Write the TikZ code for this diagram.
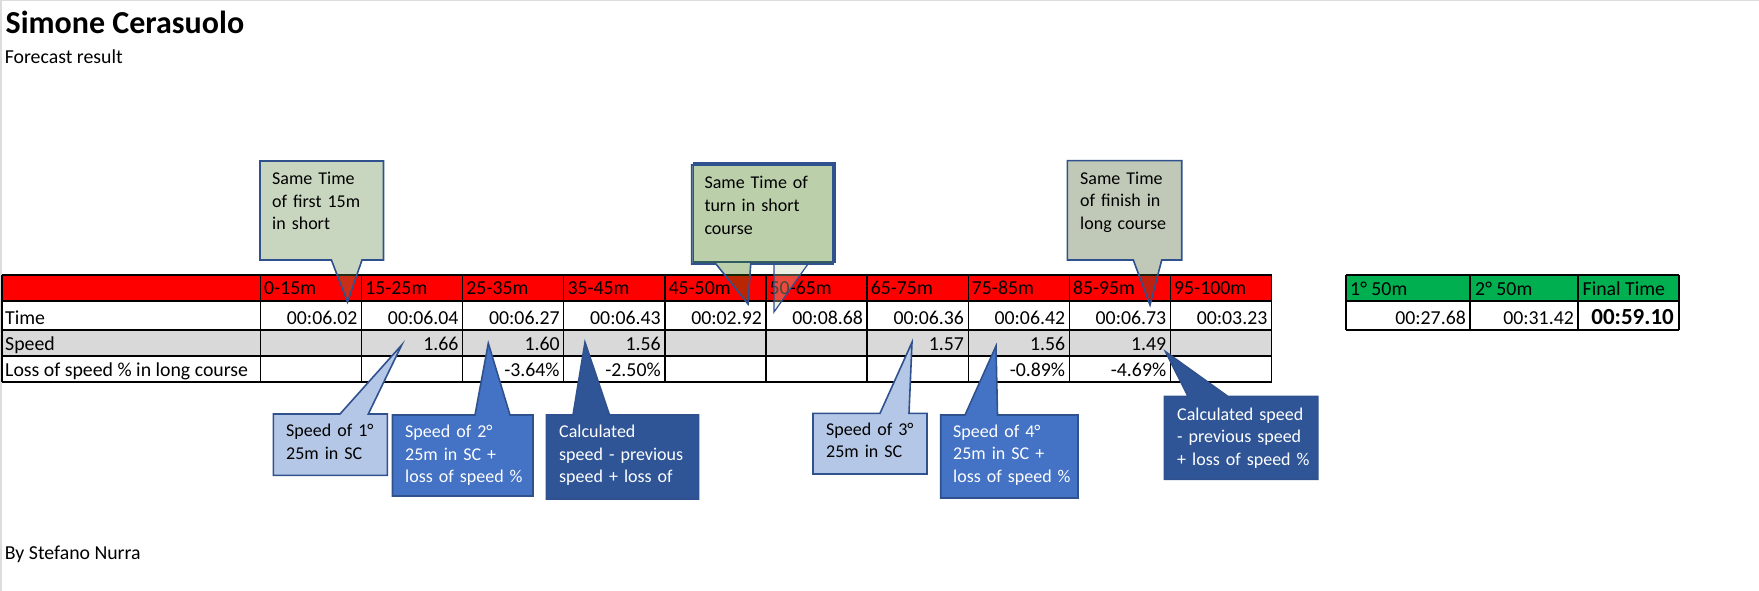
\documentclass[tikz,border=0pt]{standalone}
\usepackage{fontspec}
\setmainfont{Carlito}
\newcommand\TabF{\fontsize{19.8}{23}\selectfont}
\newcommand\CalF{\fontsize{18}{22.8}\selectfont}
\newcommand\TitF{\fontsize{32}{38}\selectfont\bfseries}
\newcommand\BigF{\fontsize{23}{27}\selectfont\bfseries}
\definecolor{xred}{RGB}{255,0,0}
\definecolor{xgray}{RGB}{217,217,217}
\definecolor{xgreen}{RGB}{0,176,80}
\definecolor{cborder}{RGB}{47,82,143}
\definecolor{lblue}{RGB}{180,199,231}
\definecolor{mblue}{RGB}{68,114,196}
\definecolor{dblue}{RGB}{47,85,151}
\definecolor{gA}{RGB}{97,136,67}
\definecolor{gB}{RGB}{55,114,5}
\definecolor{gBb}{RGB}{195,212,173}
\definecolor{gC}{RGB}{70,96,46}
\definecolor{frame}{RGB}{220,220,220}
\begin{document}
\begin{tikzpicture}[x=1pt,y=-1pt,
  gridline/.style={line width=1.3pt,draw=black},
  txt/.style={inner sep=0pt,font=\TabF},
  hd/.style={txt,anchor=base west},
  num/.style={txt,anchor=base east},
  gcall/.style={draw=cborder,line width=1.6pt,line join=miter,fill opacity=0.34},
  bcall/.style={draw=cborder,line width=1.6pt,line join=miter},
  ctext/.style={inner sep=0pt,font=\CalF,align=left,text width=160pt,anchor=base west}]
\useasboundingbox (0,0) rectangle (1759,591);
\draw[frame,line width=1.5pt] (0,0.75) -- (1759,0.75);
\draw[frame,line width=1.5pt] (0.75,0) -- (0.75,591);

% titles
\node[inner sep=0pt,anchor=base west,font=\TitF] (title) at (5.5,33.3) {Simone Cerasuolo};
\node[hd] (sub) at (4.6,64) {Forecast result};
\node[hd] (by) at (4.7,559.3) {By Stefano Nurra};

% main table fills
\fill[xred] (2,275) rectangle (1271.5,301);
\fill[xgray] (2,330) rectangle (1271.5,356);
\foreach \y in {275,301,330,356,382} \draw[gridline] (2,\y) -- (1271.5,\y);
\draw[gridline] (2,275) -- (2,382);
\foreach \k in {0,...,10} \draw[gridline] ({260.5+101.1*\k},275) -- ({260.5+101.1*\k},382);

% main table texts
\foreach \lab [count=\i] in {0-15m,15-25m,25-35m,35-45m,45-50m,50-65m,65-75m,75-85m,85-95m,95-100m}
  \node[hd] (h\i) at ({260.5+101.1*(\i-1)+3.5},294) {\lab};
\node[hd] (rtime) at (5,324) {Time};
\node[hd] (rspeed) at (5,350.6) {Speed};
\node[hd] (rloss) at (5,376.6) {Loss of speed \% in long course};
\foreach \v [count=\i] in {00:06.02,00:06.04,00:06.27,00:06.43,00:02.92,00:08.68,00:06.36,00:06.42,00:06.73,00:03.23}
  \node[num] (t\i) at ({260.5+101.1*\i-4},324) {\v};
\foreach \c/\v in {2/1.66,3/1.60,4/1.56,7/1.57,8/1.56,9/1.49}
  \node[num] (s\c) at ({260.5+101.1*\c-4},350.6) {\v};
\foreach \c/\v in {3/-3.64\%,4/-2.50\%,8/-0.89\%,9/-4.69\%}
  \node[num] (l\c) at ({260.5+101.1*\c-4},376.6) {\v};

% right table
\fill[xgreen] (1346,275) rectangle (1679,301);
\foreach \y in {275,301,330} \draw[gridline] (1346,\y) -- (1679,\y);
\foreach \x in {1346,1470,1578,1679} \draw[gridline] (\x,275) -- (\x,330);
\node[hd] (g1) at (1350,295) {1° 50m};
\node[hd] (g2) at (1475,295) {2° 50m};
\node[hd] (g3) at (1582.5,295) {Final Time};
\node[num] (v1) at (1466,324) {00:27.68};
\node[num] (v2) at (1574,324) {00:31.42};
\node[inner sep=0pt,anchor=base east,font=\BigF] (v3) at (1674,324) {00:59.10};

% green callouts (semi-transparent)
\coordinate (tipA) at (347.5,302);
\draw[gcall,fill=gA] (260,161) -- (383.5,161) -- (383.5,260) -- (362,260) -- (tipA) -- (331.4,260) -- (260,260) -- cycle;
\node[ctext] (cA) at (272,184.3) {Same Time\\of first 15m\\in short};

\coordinate (tipBb) at (774,312);
\draw[draw=cborder,line width=1.2pt] (693.7,163) rectangle (835,262);
\draw[draw=cborder,line width=1.2pt,fill=gBb,fill opacity=0.35] (808,264) -- (tipBb) -- (774,264) -- cycle;
\coordinate (tipB) at (748,304);
\draw[gcall,fill=gB] (691.7,165) -- (833,165) -- (833,264) -- (750.7,264) -- (tipB) -- (716,264) -- (691.7,264) -- cycle;
\node[ctext] (cB) at (704.3,189) {Same Time of\\turn in short\\course};

\coordinate (tipC) at (1150,305);
\draw[gcall,fill=gC] (1067.3,160.7) -- (1181.7,160.7) -- (1181.7,260) -- (1161.7,260) -- (tipC) -- (1133.3,260) -- (1067.3,260) -- cycle;
\node[ctext] (cC) at (1080,184) {Same Time\\of finish in\\long course};

% blue callouts
\coordinate (tipS1) at (401.7,345);
\draw[bcall,fill=lblue] (273.3,414) -- (340,414) -- (tipS1) -- (368.3,414) -- (387.3,414) -- (387.3,475.3) -- (273.3,475.3) -- cycle;
\node[ctext] (cS1) at (286,436.7) {Speed of 1°\\25m in SC};

\coordinate (tipS2) at (488.3,343.3);
\draw[bcall,fill=mblue] (392.5,415) -- (475,415) -- (tipS2) -- (510,415) -- (533,415) -- (533,496) -- (392.5,496) -- cycle;
\node[ctext,text=white] (cS2) at (405,437.3) {Speed of 2°\\25m in SC +\\loss of speed \%};

\coordinate (tipD1) at (585,342.3);
\draw[bcall,fill=dblue] (546.5,415) -- (573,415) -- (tipD1) -- (609.5,415) -- (698.6,415) -- (698.6,499) -- (546.5,499) -- cycle;
\node[ctext,text=white] (cD1) at (559,437.3) {Calculated\\speed - previous\\speed + loss of};

\coordinate (tipS3) at (912,342.3);
\draw[bcall,fill=lblue] (813,413.3) -- (880,413.3) -- (tipS3) -- (909,413.3) -- (927,413.3) -- (927,474) -- (813,474) -- cycle;
\node[ctext] (cS3) at (826,435) {Speed of 3°\\25m in SC};

\coordinate (tipS4) at (996,346);
\draw[bcall,fill=mblue] (940.7,415) -- (965,415) -- (tipS4) -- (997.5,415) -- (1078,415) -- (1078,498) -- (940.7,498) -- cycle;
\node[ctext,text=white] (cS4) at (953,437) {Speed of 4°\\25m in SC +\\loss of speed \%};

\coordinate (tipD2) at (1165.5,351.7);
\draw[bcall,fill=dblue] (1164.4,396.3) -- (1188,396.3) -- (tipD2) -- (1227.7,396.3) -- (1317.8,396.3) -- (1317.8,479.3) -- (1164.4,479.3) -- cycle;
\node[ctext,text=white] (cD2) at (1177,420) {Calculated speed\\- previous speed\\+ loss of speed \%};
\end{tikzpicture}
\end{document}
